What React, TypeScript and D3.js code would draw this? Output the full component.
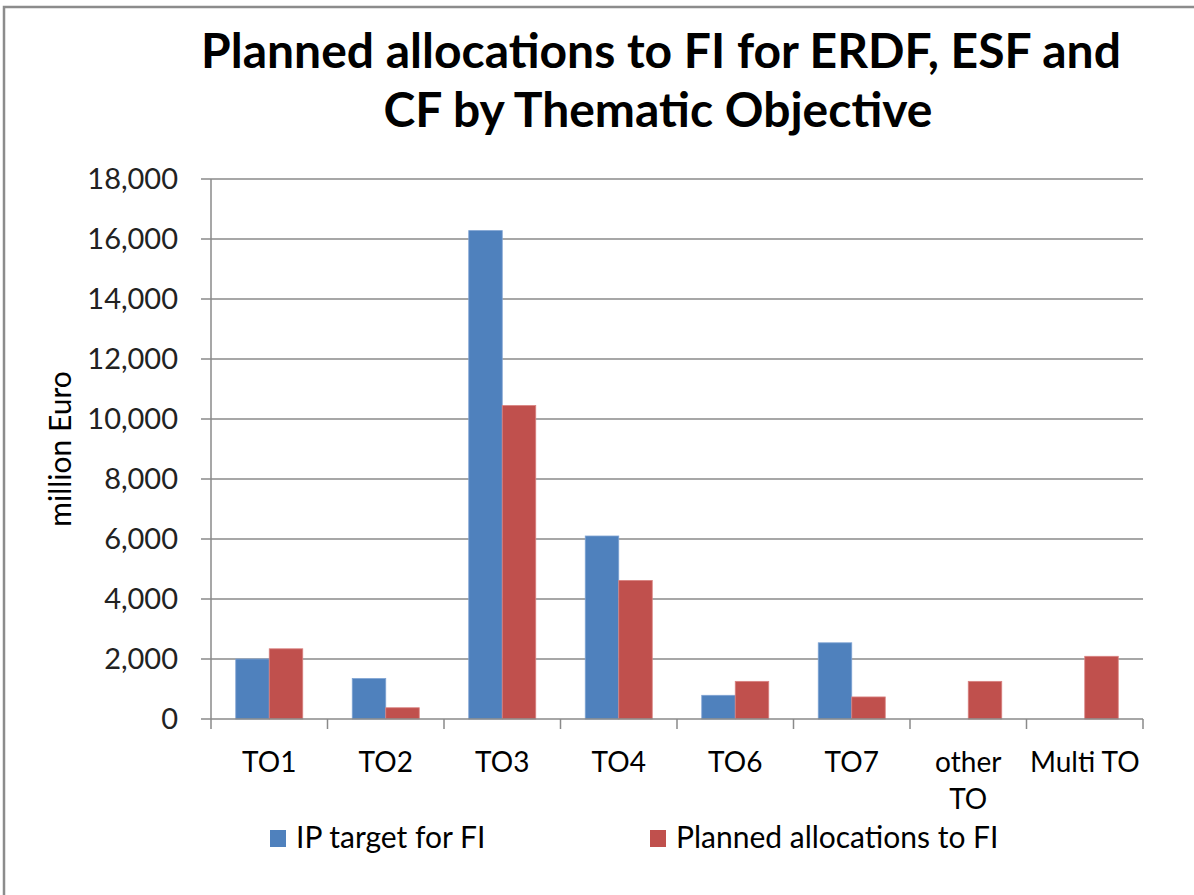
import React from 'react';
import * as d3 from 'd3';

const categories = ['TO1', 'TO2', 'TO3', 'TO4', 'TO6', 'TO7', 'other TO', 'Multi TO'];
const ipTarget = [2000, 1350, 16280, 6100, 790, 2540, 0, 0];
const plannedAlloc = [2340, 375, 10450, 4620, 1255, 735, 1255, 2090];
const seriesNames = ['IP target for FI', 'Planned allocations to FI'];
const seriesColors = ['#4F81BD', '#C0504D'];
const yTicks = [0, 2000, 4000, 6000, 8000, 10000, 12000, 14000, 16000, 18000];

const W = 1194;
const H = 895;
const left = 211;
const right = 1143;
const top = 179;
const bottom = 719;
const font = 'Lato, "Open Sans", sans-serif';
const grid = '#8a8a8a';

export default function App() {
  const x0 = d3.scaleBand<string>().domain(categories).range([left, right]);
  const groupW = 67;
  const x1 = d3.scaleBand<number>().domain([0, 1]).range([0, groupW]);
  const y = d3.scaleLinear().domain([0, 18000]).range([bottom, top]);
  const fmt = d3.format(',');
  const series = [ipTarget, plannedAlloc];

  const boundaries = categories.map((c) => x0(c) as number).concat([right]);

  return (
    <svg width={W} height={H} style={{ position: 'absolute', left: 0, top: 0, background: '#fff' }} fontFamily={font}>
      <rect x={4} y={7} width={W + 20} height={H + 20} fill="#fff" stroke="#8c8c8c" strokeWidth={2.5} />

      <text x={661} y={68} textAnchor="middle" fontSize={48} fontWeight={700} fill="#000">
        Planned allocations to FI for ERDF, ESF and
      </text>
      <text x={658} y={127} textAnchor="middle" fontSize={48} fontWeight={700} fill="#000">
        CF by Thematic Objective
      </text>

      {yTicks.map((t) => (
        <g key={t}>
          {t > 0 && <line x1={left} x2={right} y1={y(t)} y2={y(t)} stroke={grid} strokeWidth={1.5} />}
          <line x1={left - 10} x2={left} y1={y(t)} y2={y(t)} stroke={grid} strokeWidth={1.5} />
          <text x={178} y={y(t)} dy="0.35em" textAnchor="end" fontSize={29} fill="#222">
            {fmt(t)}
          </text>
        </g>
      ))}

      <text
        transform={`translate(60,${(top + bottom) / 2}) rotate(-90)`}
        textAnchor="middle"
        dy="0.35em"
        fontSize={30}
        fill="#000"
      >
        million Euro
      </text>

      {series.map((vals, si) =>
        vals.map((v, i) =>
          v > 0 ? (
            <rect
              key={`${si}-${i}`}
              x={(x0(categories[i]) as number) + (x0.bandwidth() - groupW) / 2 + (x1(si) as number)}
              y={y(v)}
              width={x1.bandwidth()}
              height={bottom - y(v)}
              fill={seriesColors[si]}
              stroke={si === 0 ? '#7fa3d3' : '#d98280'}
              strokeWidth={0.8}
            />
          ) : null
        )
      )}

      <line x1={left} x2={left} y1={top} y2={bottom} stroke={grid} strokeWidth={1.5} />
      <line x1={left} x2={right} y1={bottom} y2={bottom} stroke={grid} strokeWidth={1.5} />
      {boundaries.map((b, i) => (
        <line key={i} x1={b} x2={b} y1={bottom} y2={bottom + 10} stroke={grid} strokeWidth={1.5} />
      ))}

      {categories.map((c) => {
        const cx = (x0(c) as number) + x0.bandwidth() / 2;
        const lines = c === 'other TO' ? ['other', 'TO'] : [c];
        return (
          <text key={c} x={cx} y={772} textAnchor="middle" fontSize={28} fill="#000">
            {lines.map((l, j) => (
              <tspan key={j} x={cx} dy={j === 0 ? 0 : 37}>
                {l}
              </tspan>
            ))}
          </text>
        );
      })}

      {seriesNames.map((n, i) => {
        const lx = i === 0 ? 270 : 650;
        return (
          <g key={n}>
            <rect x={lx} y={830} width={16} height={17} fill={seriesColors[i]} />
            <text x={lx + 26} y={848} fontSize={30} fill="#000">
              {n}
            </text>
          </g>
        );
      })}
    </svg>
  );
}
